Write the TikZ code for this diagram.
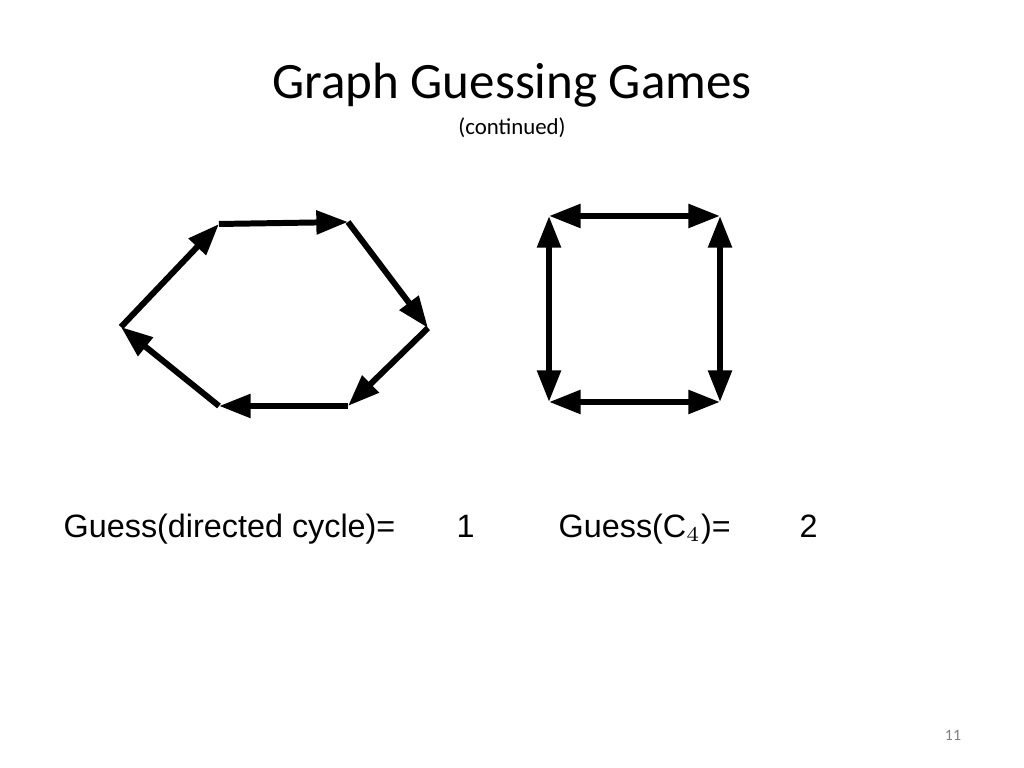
\documentclass[tikz,border=0pt]{standalone}
\usepackage{fontspec}
\setmainfont{Carlito}
\newfontfamily\arialfont{Liberation Sans}
\usetikzlibrary{arrows.meta}
\begin{document}
\begin{tikzpicture}[x=0.01cm,y=-0.01cm,%%
  lineStyle/.style={-{Triangle[length=9pt,width=6.5pt]},line width=1.7pt},%%
  bothStyle/.style={{Triangle[length=9pt,width=6.5pt]}-{Triangle[length=9pt,width=6.5pt]},line width=1.7pt},%%
  textStyle/.style={font=\arialfont\fontsize{9.2}{11}\selectfont,anchor=base west,inner sep=0pt}
]
\useasboundingbox (0,0) rectangle (1024,768);
%%
%% Title.
\node (title) at (512,85) {\fontsize{14.5}{17}\selectfont Graph Guessing Games};
\node (sub) at (512,128) {\fontsize{6.5}{8}\selectfont (continued)};
\node (page) at (953,735) {\color{gray}\fontsize{4.5}{5}\selectfont 11};
%%
%% Coordinates of the hexagon.
\coordinate (A) at (121,327);
\coordinate (B) at (219,224);
\coordinate (C) at (348,222);
\coordinate (D) at (428,328);
\coordinate (E) at (348,406);
\coordinate (F) at (219,406);
%% Coordinates of the square.
\coordinate (P) at (549,216);
\coordinate (Q) at (720,216);
\coordinate (R) at (720,402);
\coordinate (S) at (549,402);
%%
%% Directed cycle.
\draw[lineStyle] (A) -- (B);
\draw[lineStyle] (B) -- (C);
\draw[lineStyle] (C) -- (D);
\draw[lineStyle] (D) -- (E);
\draw[lineStyle] (E) -- (F);
\draw[lineStyle] (F) -- (A);
%% C4 with both directions.
\draw[bothStyle] (P) -- (Q);
\draw[bothStyle] (Q) -- (R);
\draw[bothStyle] (R) -- (S);
\draw[bothStyle] (S) -- (P);
%%
%% Labels.
\node[textStyle] (g1) at (63,538) {Guess(directed cycle)=};
\node[textStyle] (v1) at (456,538) {1};
\node[textStyle] (g2) at (558,538) {Guess(C$_4$)=};
\node[textStyle] (v2) at (799,538) {2};
\end{tikzpicture}
\end{document}
